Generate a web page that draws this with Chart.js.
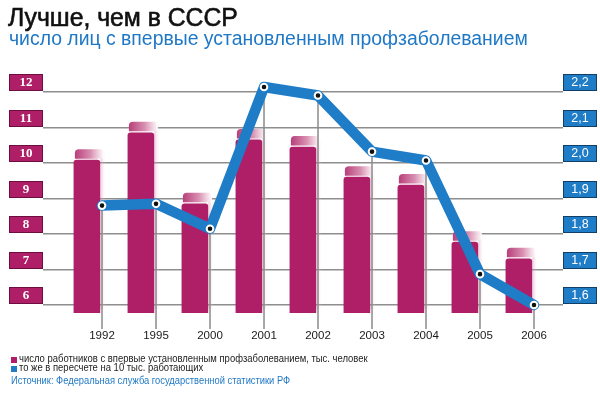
<!DOCTYPE html>
<html>
<head>
<meta charset="utf-8">
<script src="https://cdn.jsdelivr.net/npm/chart.js@4"></script>
<style>
  body { margin: 0; background: #fff; }
  #wrap { position: relative; width: 600px; height: 397px; overflow: hidden; font-family: "Liberation Sans", Arial, sans-serif; }
  #chart { position: absolute; left: 0; top: 0; }
  .txt { position: absolute; white-space: nowrap; transform-origin: 0 0; }
  #title { left: 8px; top: 5px; font-size: 25px; line-height: 25px; color: #111; -webkit-text-stroke: 0.6px #111; transform: scaleX(0.99); }
  #subtitle { left: 9px; top: 29px; font-size: 19.4px; line-height: 19px; color: #1f78c6; }
  .leg { left: 19px; font-size: 11px; line-height: 11px; color: #222; transform: scaleX(0.86); }
  .sq { position: absolute; left: 11px; width: 6px; height: 6px; }
  #source { left: 11px; top: 375px; font-size: 11px; line-height: 11px; color: #1f78c6; transform: scaleX(0.85); }
</style>
</head>
<body>
<div id="wrap">
  <canvas id="chart" width="600" height="397"></canvas>
  <div id="title" class="txt">Лучше, чем в СССР</div>
  <div id="subtitle" class="txt">число лиц с впервые установленным профзаболеванием</div>
  <div class="sq" style="top:357px;background:#ae1f68"></div>
  <div class="txt leg" style="top:353.2px">число работников с впервые установленным профзаболеванием, тыс. человек</div>
  <div class="sq" style="top:366px;background:#1f7cc7"></div>
  <div class="txt leg" style="top:362.4px">то же в пересчете на 10 тыс. работающих</div>
  <div id="source" class="txt">Источник: Федеральная служба государственной статистики РФ</div>
</div>
<script>
// data
const years = ['1992', '1995', '2000', '2001', '2002', '2003', '2004', '2005', '2006'];
const workers = [10.08, 10.85, 8.85, 10.65, 10.45, 9.6, 9.38, 7.77, 7.3];     // тыс. человек
const per10k = [1.88, 1.885, 1.815, 2.214, 2.19, 2.032, 2.007, 1.687, 1.6];   // на 10 тыс. работающих
const leftTicks = [6, 7, 8, 9, 10, 11, 12];
const rightTicks = [1.6, 1.7, 1.8, 1.9, 2.0, 2.1, 2.2];
const rightLabels = ['1,6', '1,7', '1,8', '1,9', '2,0', '2,1', '2,2'];

const BAR_SHIFT = 0.28;
const MAGENTA = '#ae1f68';
const BLUE = '#1f7cc7';

const decor = {
  id: 'decor',
  beforeDatasetDraw(chart, args) {
    if (args.meta.type !== 'line') return;
    const ctx = chart.ctx;
    const area = chart.chartArea;
    ctx.save();
    // bar caps + glow
    chart.getDatasetMeta(0).data.forEach(bar => {
      const { x, y, width } = bar.getProps(['x', 'y', 'width'], true);
      const left = x - width / 2, right = x + width / 2;
      let g = ctx.createLinearGradient(right, 0, right + 6, 0);
      g.addColorStop(0, 'rgba(205,110,155,0.45)');
      g.addColorStop(1, 'rgba(255,255,255,0)');
      ctx.fillStyle = g;
      ctx.fillRect(right + 0.5, y - 8, 6, area.bottom - y + 4);
      g = ctx.createLinearGradient(left, 0, right + 4, 0);
      g.addColorStop(0, '#b53a76');
      g.addColorStop(0.55, '#d88db0');
      g.addColorStop(1, 'rgba(255,255,255,0.95)');
      ctx.fillStyle = g;
      ctx.beginPath();
      ctx.roundRect(left + 1, y - 11, width + 3, 9.5, [4, 3, 0, 0]);
      ctx.fill();
    });
    // drop lines
    ctx.strokeStyle = '#8a8a8a';
    ctx.lineWidth = 1.5;
    args.meta.data.forEach(pt => {
      ctx.beginPath();
      ctx.moveTo(pt.x, pt.y);
      ctx.lineTo(pt.x, area.bottom + 16);
      ctx.stroke();
    });
    ctx.restore();
  },
  afterDraw(chart) {
    const ctx = chart.ctx;
    const yl = chart.scales.y, yr = chart.scales.y2;
    ctx.save();
    ctx.textAlign = 'center';
    ctx.textBaseline = 'middle';
    leftTicks.forEach(v => {
      const py = Math.round(yl.getPixelForValue(v));
      ctx.fillStyle = MAGENTA;
      ctx.fillRect(9.5, py - 17.5, 33, 16);
      ctx.strokeStyle = '#6e0e3e';
      ctx.lineWidth = 1;
      ctx.strokeRect(9.5, py - 17.5, 33, 16);
      ctx.fillStyle = '#fff';
      ctx.font = 'bold 13px "Liberation Serif", serif';
      ctx.fillText(String(v), 26, py - 9);
    });
    rightTicks.forEach((v, i) => {
      const py = Math.round(yr.getPixelForValue(v));
      ctx.fillStyle = BLUE;
      ctx.fillRect(563.5, py - 17.5, 33, 16);
      ctx.strokeStyle = '#123f66';
      ctx.lineWidth = 1;
      ctx.strokeRect(563.5, py - 17.5, 33, 16);
      ctx.fillStyle = '#fff';
      ctx.font = '12.5px "Liberation Sans", sans-serif';
      ctx.fillText(rightLabels[i], 580, py - 9);
    });
    ctx.restore();
  }
};

new Chart(document.getElementById('chart'), {
  type: 'bar',
  data: {
    datasets: [
      {
        type: 'bar',
        data: workers.map((v, i) => ({ x: i - BAR_SHIFT, y: v })),
        backgroundColor: MAGENTA,
        barThickness: 26,
        borderRadius: 3,
        borderSkipped: false,
        yAxisID: 'y',
        order: 1
      },
      {
        type: 'line',
        data: per10k.map((v, i) => ({ x: i, y: v })),
        yAxisID: 'y2',
        borderColor: BLUE,
        borderWidth: 10.5,
        borderJoinStyle: 'round',
        borderCapStyle: 'round',
        tension: 0,
        pointRadius: 3.3,
        pointBackgroundColor: '#111',
        pointBorderColor: '#fff',
        pointBorderWidth: 2,
        clip: false,
        order: 0
      }
    ]
  },
  options: {
    responsive: false,
    animation: false,
    layout: { padding: { left: 43, right: 37, top: 92, bottom: 54 } },
    plugins: { legend: { display: false }, tooltip: { enabled: false } },
    scales: {
      x: {
        type: 'linear', min: -1.093, max: 8.537, offset: false,
        afterBuildTicks: s => { s.ticks = years.map((_, i) => ({ value: i })); },
        afterFit: s => { s.height = 30; },
        grid: { display: false, drawTicks: false },
        border: { display: false },
        ticks: {
          callback: v => years[v],
          autoSkip: false, maxRotation: 0, padding: 16,
          color: '#1a1a1a',
          font: { family: '"Liberation Sans", sans-serif', size: 11.5 }
        }
      },
      y: {
        type: 'linear', position: 'left', min: 5.775, max: 12,
        afterBuildTicks: s => { s.ticks = leftTicks.map(v => ({ value: v })); },
        afterFit: s => { s.width = 0; },
        grid: { color: '#8e8e8e', lineWidth: 1.5, drawTicks: false },
        border: { display: false },
        ticks: { display: false }
      },
      y2: {
        type: 'linear', position: 'right', min: 1.5775, max: 2.2,
        afterFit: s => { s.width = 0; },
        grid: { display: false, drawTicks: false },
        border: { display: false },
        ticks: { display: false }
      }
    }
  },
  plugins: [decor]
});
</script>
</body>
</html>
